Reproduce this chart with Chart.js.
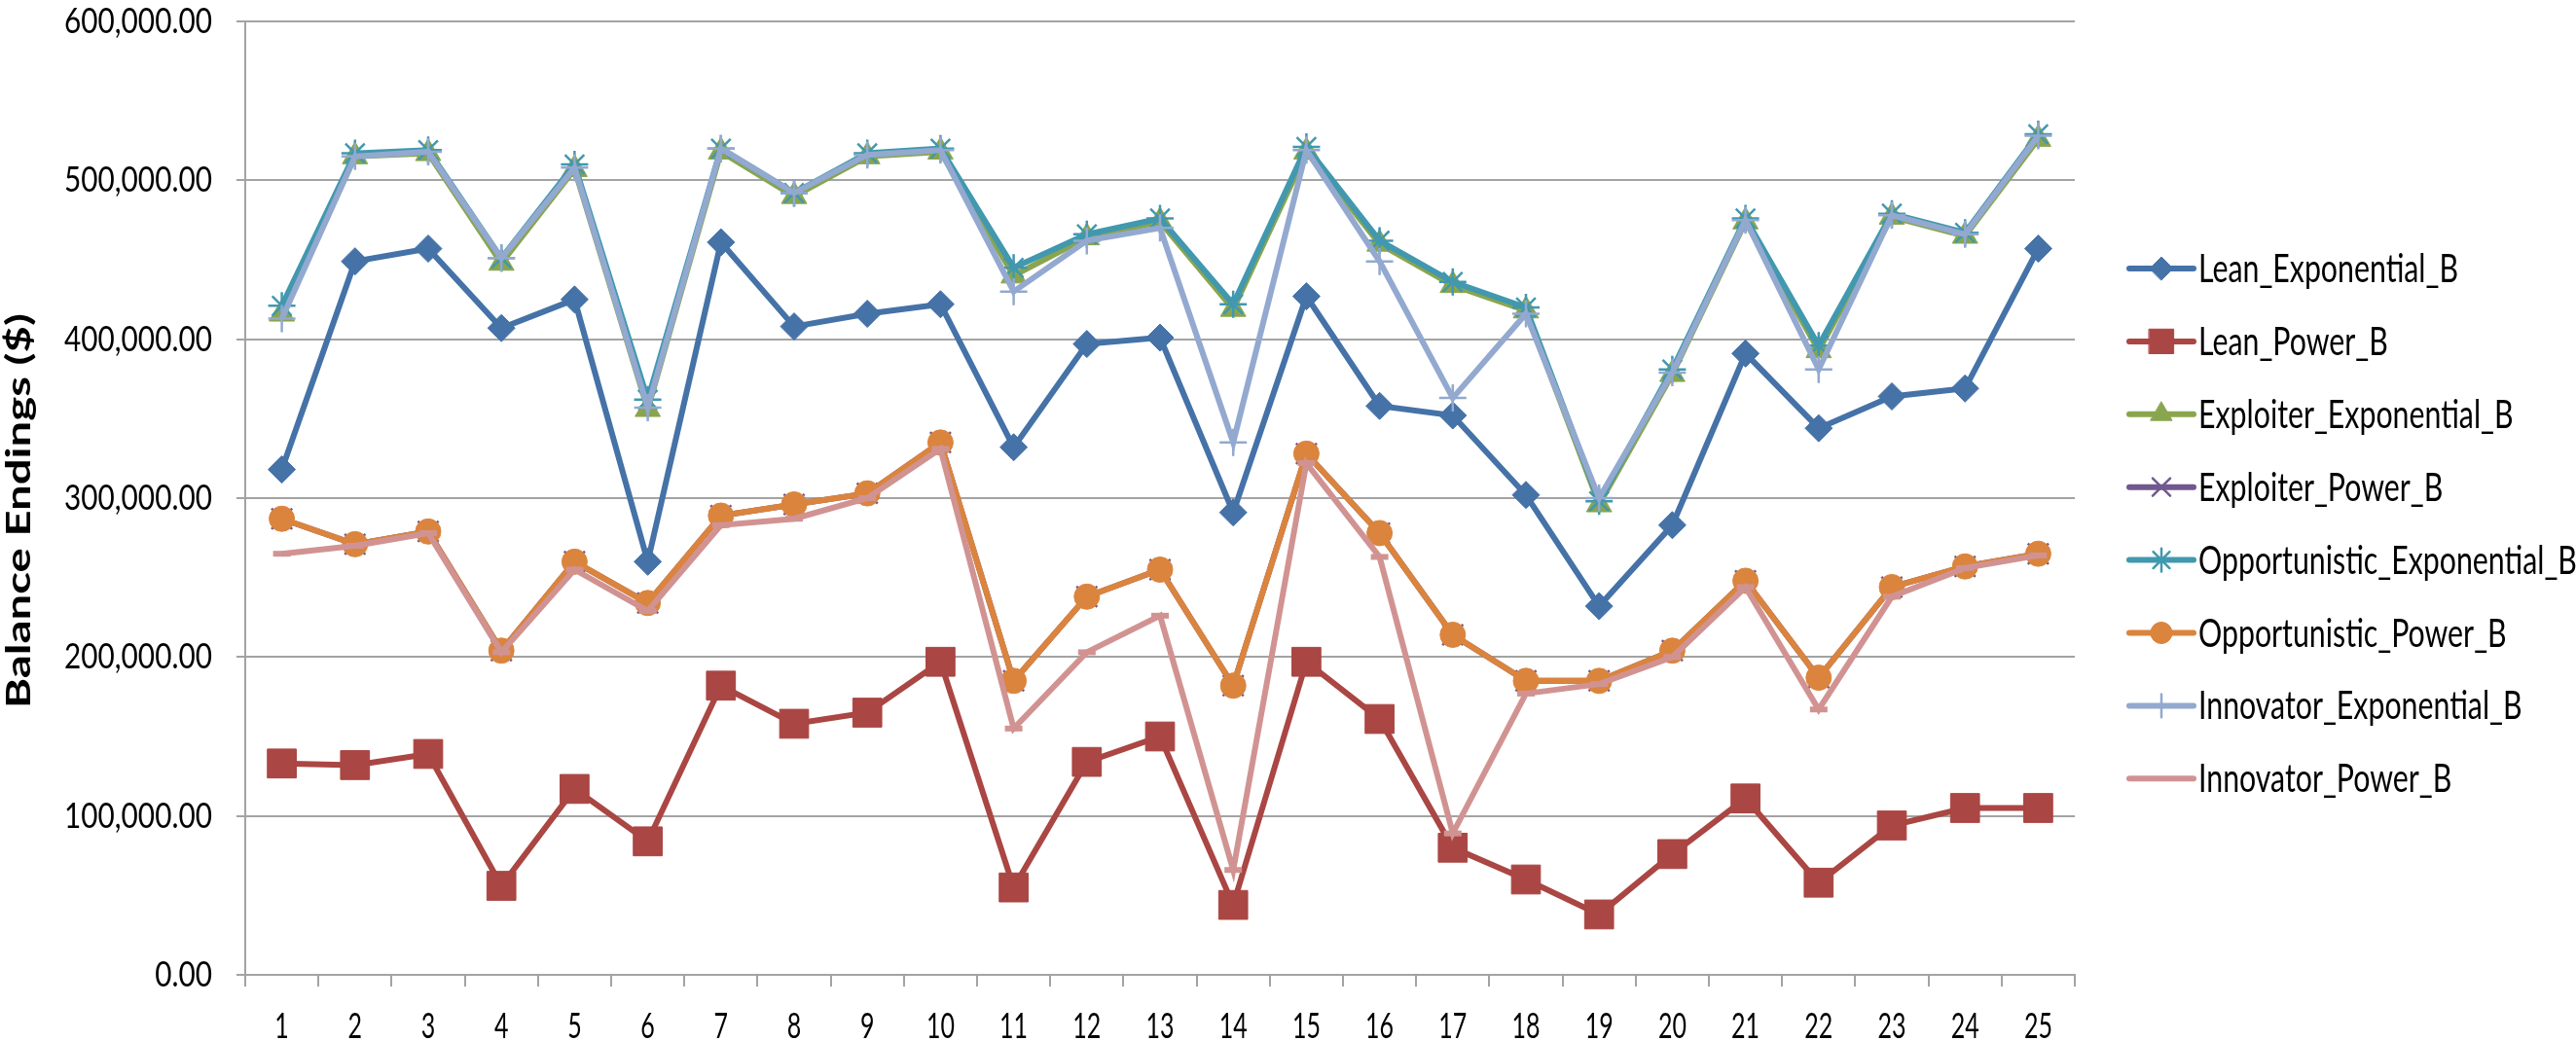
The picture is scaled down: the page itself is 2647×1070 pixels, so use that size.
<!DOCTYPE html>
<html>
<head>
<meta charset="utf-8">
<script src="https://cdn.jsdelivr.net/npm/chart.js@4.4.1/dist/chart.umd.min.js"></script>
<style>
html,body{margin:0;padding:0;background:#ffffff;}
canvas{display:block;}
</style>
</head>
<body>
<canvas id="c" width="2647" height="1070" style="width:2647px;height:1070px"></canvas>
<script>
// ---------------- DATA ----------------
const categories = ["1","2","3","4","5","6","7","8","9","10","11","12","13","14","15","16","17","18","19","20","21","22","23","24","25"];

const yTickValues = [0, 100000, 200000, 300000, 400000, 500000, 600000];
const yTickLabels = ["0.00", "100,000.00", "200,000.00", "300,000.00", "400,000.00", "500,000.00", "600,000.00"];

const seriesNames = ["Lean_Exponential_B","Lean_Power_B","Exploiter_Exponential_B","Exploiter_Power_B","Opportunistic_Exponential_B","Opportunistic_Power_B","Innovator_Exponential_B","Innovator_Power_B"];

const leanExponential = [318000,449000,457000,407000,425000,260000,461000,408000,416000,422000,332000,397000,401000,291000,427000,358000,352000,302000,232000,283000,391000,344000,364000,369000,457000];
const leanPower = [133000,132000,139000,56000,117000,84000,182000,158000,165000,197000,55000,134000,150000,44000,197000,161000,80000,60000,38000,76000,111000,58000,94000,105000,105000];
const exploiterExponential = [416000,515000,517000,448000,507000,356000,518000,490000,515000,518000,440000,464000,474000,419000,518000,460000,434000,418000,296000,378000,474000,393000,477000,465000,526000];
const exploiterPower = [287000,271000,279000,204000,260000,234000,289000,296000,303000,335000,185000,238000,255000,182000,328000,278000,214000,185000,185000,204000,248000,187000,244000,257000,265000];
const opportunisticExponential = [421000,517000,519000,451000,510000,362000,520000,492000,517000,520000,445000,466000,476000,422000,521000,462000,436000,420000,298000,381000,476000,396000,479000,467000,529000];
const opportunisticPower = [287000,271000,279000,204000,260000,234000,289000,296000,303000,335000,185000,238000,255000,182000,328000,278000,214000,185000,185000,204000,248000,187000,244000,257000,265000];
const innovatorExponential = [413000,515000,518000,451000,508000,357000,520000,492000,516000,519000,430000,462000,470000,335000,519000,449000,363000,416000,300000,379000,475000,381000,478000,466000,528000];
const innovatorPower = [265000,270000,278000,203000,255000,229000,283000,287000,300000,331000,155000,203000,226000,66000,322000,263000,89000,177000,183000,200000,244000,167000,238000,256000,264000];

const seriesValues = [leanExponential, leanPower, exploiterExponential, exploiterPower, opportunisticExponential, opportunisticPower, innovatorExponential, innovatorPower];

// ---------------- STYLES ----------------
const seriesStyles = [
  {color:'#4572A7', pointStyle:'rectRot',  radius:14, pbw:1},
  {color:'#AA4643', pointStyle:'rect',     radius:21, pbw:1},
  {color:'#89A54E', pointStyle:'triangle', radius:15, pbw:1},
  {color:'#71588F', pointStyle:'crossRot', radius:15, pbw:2.5},
  {color:'#4198AF', pointStyle:'star',     radius:14, pbw:2.5},
  {color:'#DB843D', pointStyle:'circle',   radius:13, pbw:1},
  {color:'#93A9CF', pointStyle:'cross',    radius:14, pbw:2.5},
  {color:'#D19392', pointStyle:'line',     radius:9,  pbw:6}
];

const FONT = "Lato, 'Open Sans', 'Liberation Sans', sans-serif";
const GRID = '#a3a3a3';
const X_TICK_SIZE = 36;
const Y_TICK_SIZE = 37;

// The reference uses a tall, condensed face: squeeze tick text horizontally around its anchor.
const measureCtx = document.createElement('canvas').getContext('2d');
function widthOf(text, font) { measureCtx.font = font; return measureCtx.measureText(text).width; }
const TEXT_SQUEEZE = {};
TEXT_SQUEEZE[X_TICK_SIZE] = 14.5 / widthOf('0', X_TICK_SIZE + 'px ' + FONT);
TEXT_SQUEEZE[Y_TICK_SIZE] = 152 / widthOf('300,000.00', Y_TICK_SIZE + 'px ' + FONT);
const origFillText = CanvasRenderingContext2D.prototype.fillText;
CanvasRenderingContext2D.prototype.fillText = function(text, x, y, maxWidth) {
  const m = /(\d+(?:\.\d+)?)px/.exec(this.font);
  const sx = m ? (TEXT_SQUEEZE[parseFloat(m[1])] || 1) : 1;
  if (sx === 1) {
    return maxWidth === undefined ? origFillText.call(this, text, x, y) : origFillText.call(this, text, x, y, maxWidth);
  }
  this.save();
  this.translate(x, y);
  this.scale(sx, 1);
  if (maxWidth === undefined) origFillText.call(this, text, 0, 0);
  else origFillText.call(this, text, 0, 0, maxWidth / sx);
  this.restore();
};

const datasets = seriesNames.map((name, i) => {
  const s = seriesStyles[i];
  return {
    label: name,
    data: seriesValues[i],
    borderColor: s.color,
    backgroundColor: s.color,
    borderWidth: 6,
    tension: 0,
    pointStyle: s.pointStyle,
    pointRadius: s.radius,
    pointHoverRadius: s.radius,
    pointBackgroundColor: s.color,
    pointBorderColor: s.color,
    pointBorderWidth: s.pbw,
    order: seriesNames.length - 1 - i,
    clip: false
  };
});

// Excel style legend: line + marker + name
const excelLegend = {
  id: 'excelLegend',
  afterDraw(chart) {
    const ctx = chart.ctx;
    const x0 = chart.chartArea.right + 56;
    const x1 = x0 + 66;
    const xm = (x0 + x1) / 2;
    const yStart = 276, step = 74.9;
    const font = '40px ' + FONT;
    ctx.save();
    ctx.font = font;
    const sq = 267 / ctx.measureText('Lean_Exponential_B').width;
    ctx.restore();
    chart.data.datasets.forEach((ds, i) => {
      const s = seriesStyles[i];
      const y = yStart + i * step;
      ctx.save();
      ctx.strokeStyle = s.color;
      ctx.lineWidth = 6;
      ctx.lineCap = 'round';
      ctx.beginPath();
      ctx.moveTo(x0, y);
      ctx.lineTo(x1, y);
      ctx.stroke();
      if (s.pointStyle !== 'line') {
        ctx.fillStyle = s.color;
        ctx.strokeStyle = s.color;
        ctx.lineWidth = s.pbw;
        Chart.helpers.drawPoint(ctx, {pointStyle: s.pointStyle, radius: s.radius * 0.85, rotation: 0, borderWidth: s.pbw}, xm, y);
      }
      ctx.fillStyle = '#000000';
      ctx.font = font;
      ctx.textAlign = 'left';
      ctx.textBaseline = 'alphabetic';
      ctx.translate(x1 + 5, y + 14);
      ctx.scale(sq, 1);
      origFillText.call(ctx, ds.label, 0, 0);
      ctx.restore();
    });
  }
};

// y axis title (bold, long and thin like the reference)
const yTitle = {
  id: 'yTitle',
  afterDraw(chart) {
    const ctx = chart.ctx;
    const text = 'Balance Endings ($)';
    ctx.save();
    ctx.font = "bold 34px " + FONT;
    const sq = 406 / ctx.measureText(text).width;
    ctx.translate(31, 525);
    ctx.rotate(-Math.PI / 2);
    ctx.scale(sq, 1);
    ctx.fillStyle = '#000000';
    ctx.textAlign = 'center';
    ctx.textBaseline = 'alphabetic';
    origFillText.call(ctx, text, 0, 0);
    ctx.restore();
  }
};

new Chart(document.getElementById('c'), {
  type: 'line',
  data: { labels: categories, datasets: datasets },
  options: {
    responsive: false,
    animation: false,
    devicePixelRatio: 1,
    layout: { padding: { left: 0, right: 515, top: 16, bottom: 0 } },
    plugins: {
      legend: { display: false },
      tooltip: { enabled: false },
      title: { display: false }
    },
    scales: {
      x: {
        type: 'category',
        offset: true,
        grid: { offset: true, drawOnChartArea: false, drawTicks: true, tickLength: 12, color: GRID, lineWidth: 2 },
        border: { display: true, color: GRID, width: 2 },
        ticks: { color: '#000000', font: { size: X_TICK_SIZE, family: FONT }, padding: 20, maxRotation: 0, autoSkip: false },
        afterFit(scale) { scale.height = 68; scale.paddingLeft = 0; scale.paddingRight = 0; }
      },
      y: {
        type: 'linear',
        min: 0,
        max: 600000,
        afterBuildTicks(scale) { scale.ticks = yTickValues.map(v => ({ value: v })); },
        grid: { color: GRID, lineWidth: 2, drawTicks: true, tickLength: 9 },
        border: { display: true, color: GRID, width: 2 },
        ticks: {
          color: '#000000',
          font: { size: Y_TICK_SIZE, family: FONT },
          padding: 25,
          callback(value) { return yTickLabels[yTickValues.indexOf(value)]; }
        },
        afterFit(scale) { scale.width = 252; scale.paddingTop = 0; scale.paddingBottom = 0; }
      }
    }
  },
  plugins: [excelLegend, yTitle]
});
</script>
</body>
</html>
